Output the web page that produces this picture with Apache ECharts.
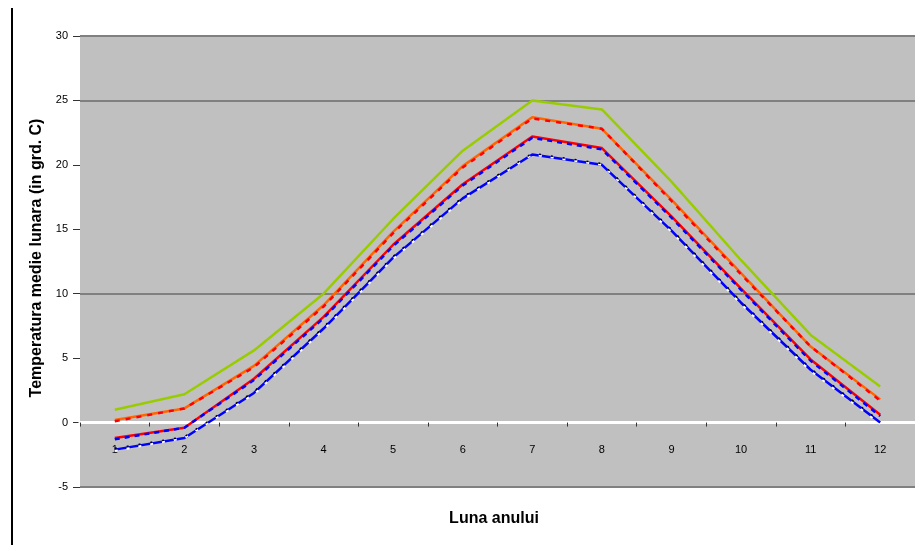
<!DOCTYPE html>
<html>
<head>
<meta charset="utf-8">
<script src="https://cdn.jsdelivr.net/npm/echarts@6/dist/echarts.min.js"></script>
<style>html,body{margin:0;padding:0;background:#fff}#c{width:915px;height:545px}</style>
</head>
<body>
<div id="c"></div>
<script>
// Data
var months = ['1','2','3','4','5','6','7','8','9','10','11','12'];
var yTicks = [-5, 0, 5, 10, 15, 20, 25, 30];
var serGreen  = [1.0, 2.2, 5.6, 10.0, 15.8, 21.1, 25.0, 24.3, 18.7, 12.6, 6.8, 2.8];
var serOrange = [0.2, 1.1, 4.4, 9.1, 14.8, 19.9, 23.7, 22.8, 17.3, 11.6, 5.9, 1.8];
var serRedB   = [0.1, 1.1, 4.3, 9.0, 14.7, 19.8, 23.6, 22.8, 17.2, 11.5, 5.9, 1.7];
var serRedC   = [-1.2, -0.4, 3.4, 8.2, 13.8, 18.5, 22.2, 21.3, 16.0, 10.4, 4.9, 0.6];
var serBlueC  = [-1.3, -0.4, 3.3, 8.1, 13.7, 18.4, 22.1, 21.2, 15.9, 10.3, 4.8, 0.5];
var serBlueD  = [-2.1, -1.2, 2.3, 7.3, 12.8, 17.4, 20.8, 20.0, 14.9, 9.3, 4.1, 0.0];
var serWhiteD = [-2.2, -1.2, 2.2, 7.2, 12.7, 17.3, 20.8, 20.0, 14.8, 9.2, 4.0, -0.1];
var serBlackD = [-2.0, -1.1, 2.4, 7.4, 12.9, 17.5, 20.9, 20.1, 15.0, 9.4, 4.2, 0.1];

var chart = echarts.init(document.getElementById('c'), null, {renderer: 'canvas'});
var FONT = 'Liberation Sans, Arial, sans-serif';
var GRID_TOP = 36, GRID_BOTTOM = 58, H = 545;
var plotH = H - GRID_TOP - GRID_BOTTOM;
// move the category axis up to the value 0 (Excel style crossing)
var zeroOffset = -plotH * (0 - yTicks[0]) / (yTicks[yTicks.length - 1] - yTicks[0]);
function line(data, color, width, type, z) {
  return {
    type: 'line', data: data, symbol: 'none', smooth: false, z: z,
    lineStyle: {color: color, width: width, type: type}
  };
}
var option = {
  backgroundColor: '#ffffff',
  animation: false,
  textStyle: {fontFamily: FONT},
  grid: {
    left: 80, top: GRID_TOP, right: -5, bottom: GRID_BOTTOM,
    show: true, backgroundColor: '#C0C0C0', borderWidth: 0
  },
  xAxis: {
    type: 'category', data: months, boundaryGap: true,
    position: 'bottom', offset: zeroOffset,
    axisLine: {onZero: false, lineStyle: {color: '#ffffff', width: 3}},
    axisTick: {show: true, length: 4, lineStyle: {color: '#333', width: 1}},
    axisLabel: {color: '#000', fontSize: 11, margin: 22, fontFamily: FONT},
    splitLine: {show: false}, z: 3
  },
  yAxis: {
    type: 'value', min: yTicks[0], max: yTicks[yTicks.length - 1], interval: 5,
    axisLine: {show: false},
    axisTick: {show: true, length: 7, lineStyle: {color: '#333', width: 1}},
    axisLabel: {color: '#000', fontSize: 11, margin: 12, fontFamily: FONT},
    splitLine: {show: true, lineStyle: {width: 2,
      color: ['#808080', 'rgba(0,0,0,0)', 'rgba(0,0,0,0)', '#808080', 'rgba(0,0,0,0)', 'rgba(0,0,0,0)', '#808080', '#808080']}}
  },
  series: [
    line(serGreen, '#99CC00', 2.5, 'solid', 10),
    line(serOrange, '#FF6600', 2.5, 'solid', 10),
    line(serRedB, '#FF0000', 2.5, [5, 6], 11),
    line(serRedC, '#FF0000', 2.5, 'solid', 10),
    line(serBlueC, '#0000FF', 2.5, [5, 5], 11),
    line(serBlueD, '#0000FF', 2.5, 'solid', 10),
    line(serWhiteD, '#FFFFFF', 2, [3, 9], 11),
    line(serBlackD, '#000000', 1.5, [2, 10], 12)
  ],
  graphic: [
    {type: 'line', shape: {x1: 12, y1: 8, x2: 12, y2: 545}, style: {stroke: '#000', lineWidth: 2}},
    {type: 'text', x: 494, y: 519, style: {text: 'Luna anului', font: 'bold 16px ' + FONT, fill: '#000', textAlign: 'center', textVerticalAlign: 'middle'}},
    {type: 'text', x: 37, y: 258, rotation: Math.PI / 2,
     style: {text: 'Temperatura medie lunara (in grd. C)', font: 'bold 16px ' + FONT, fill: '#000', textAlign: 'center', textVerticalAlign: 'middle'}}
  ]
};
chart.setOption(option);
</script>
</body>
</html>
